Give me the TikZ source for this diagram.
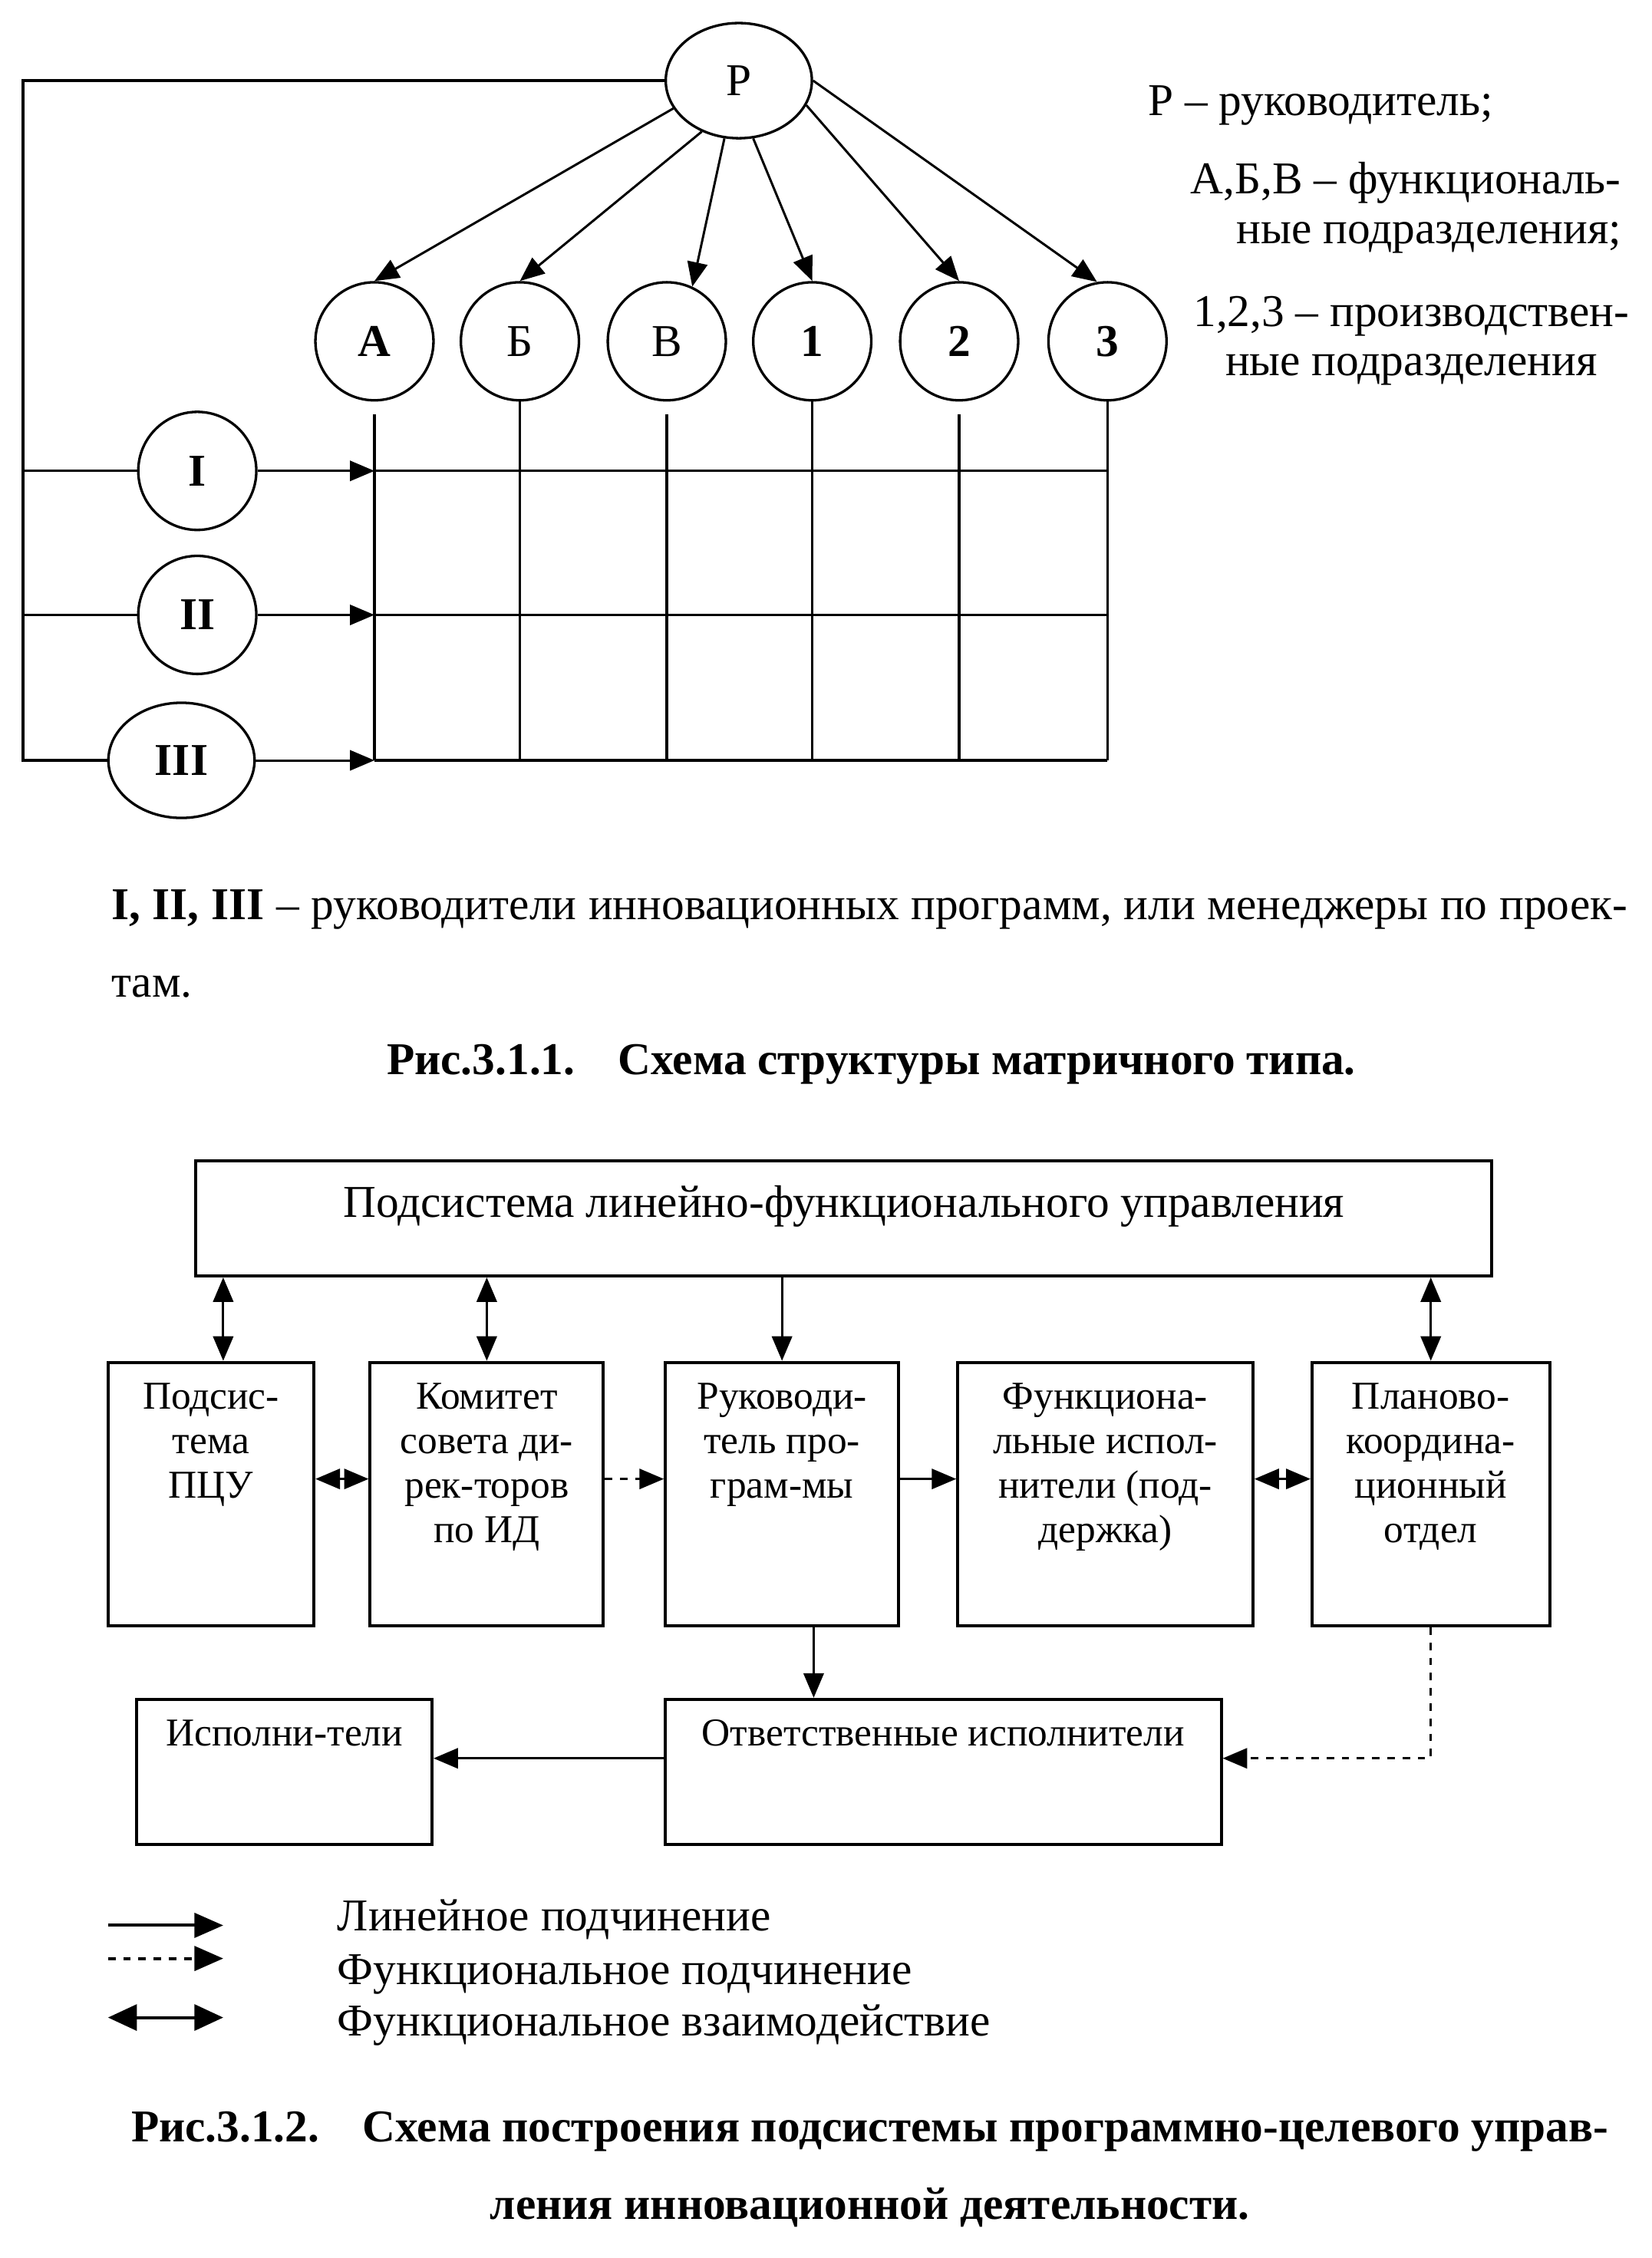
\documentclass[tikz,border=0pt]{standalone}
\usepackage{fontspec}
\setmainfont{Liberation Serif}
\usetikzlibrary{shapes.geometric, arrows.meta, positioning, calc}

\begin{document}
\begin{tikzpicture}[x=0.02cm, y=-0.02cm,
        font=\fontsize{18}{19.6}\selectfont,
        >={Triangle[length=0.34cm, width=0.28cm]},
        kr/.style={draw, line width=1pt, circle, minimum size=1.64cm, inner sep=0pt},
        ov/.style={draw, line width=1pt, ellipse, minimum width=2.03cm, minimum height=1.6cm, inner sep=0pt},
        ln/.style={line width=1pt},
        ar/.style={line width=0.9pt, ->},
        fn/.style={ar, dashed},
        vz/.style={line width=0.9pt, <->},
        bx/.style={draw, line width=1.2pt, inner sep=0pt},
        tx/.style={align=center, inner sep=0pt, font=\fontsize{15.6}{17.6}\selectfont},
        lg/.style={anchor=base west, inner sep=0pt},
        lar/.style={line width=1.2pt, -{Triangle[length=0.4cm, width=0.34cm]}}
    ]
    \useasboundingbox (0,0) rectangle (1147,1568);

    \node[ov] (R) at (513,56) {Р};
    \node[kr] (fA) at (260,237) {\textbf{А}};
    \node[kr] (fB) at (361,237) {Б};
    \node[kr] (fV) at (463,237) {В};
    \node[kr] (pr1) at (564,237) {\textbf{1}};
    \node[kr] (pr2) at (666,237) {\textbf{2}};
    \node[kr] (pr3) at (769,237) {\textbf{3}};
    \node[kr] (m1) at (137,327) {\textbf{I}};
    \node[kr] (m2) at (137,427) {\textbf{II}};
    \node[ov] (m3) at (126,528) {\textbf{III}};
    \coordinate (lt) at (16,56);
    \coordinate (lb) at (16,528);

    \draw[ar] (R.203) -- (fA.north);
    \draw[ar] (R.234) -- (fB.north);
    \draw[ar] (R.256) -- (fV.65);
    \draw[ar] (R.284) -- (pr1.north);
    \draw[ar] (R.340) -- (pr2.north);
    \draw[ar] (R.east) -- (pr3.100);
    \draw[ln] (R) -- (lt) -- (lb) -- (m3);
    \draw[ln] (lt |- m1) -- (m1);
    \draw[ln] (lt |- m2) -- (m2);
    \draw[ar] (m1) -- (fA |- m1);
    \draw[ar] (m2) -- (fA |- m2);
    \draw[ar] (m3) -- (fA |- m3);
    \draw[ln] (fA |- m1) -- (pr3 |- m1);
    \draw[ln] (fA |- m2) -- (pr3 |- m2);
    \draw[ln] (fA |- m3) -- (pr3 |- m3);
    \draw[ln, shorten <=0.18cm] (fA) -- (fA |- m3);
    \draw[ln] (fB) -- (fB |- m3);
    \draw[ln, shorten <=0.18cm] (fV) -- (fV |- m3);
    \draw[ln] (pr1) -- (pr1 |- m3);
    \draw[ln, shorten <=0.18cm] (pr2) -- (pr2 |- m3);
    \draw[ln] (pr3) -- (pr3 |- m3);

    \node[lg] (lR) at (797,80) {Р – руководитель;};
    \node[anchor=base east, align=right, inner sep=0pt] (lF) at (1126,169) {А,Б,В – функциональ-\\ные подразделения;};
    \node[anchor=base, align=center, inner sep=0pt] (lP) at (980,261) {1,2,3 – производствен-\\ные подразделения};

    \node[anchor=base west, align=left, inner sep=0pt, font=\fontsize{18}{30.7}\selectfont] (txt) at (77,692.5)
        {\makebox[21.06cm][s]{\textbf{I, II, III} – руководители инновационных программ, или менеджеры по проек-}\\там.};
    \node[anchor=base, inner sep=0pt] (cap1) at (605,746) {\textbf{Рис.3.1.1.\hspace{0.6cm}Схема структуры матричного типа.}};

    \node[bx, minimum width=18cm, minimum height=1.6cm] (lfu) at (586,846) {};
    \node[bx, minimum width=2.86cm, minimum height=3.66cm] (pcu) at (146.5,1037.5) {};
    \node[bx, minimum width=3.24cm, minimum height=3.66cm] (kom) at (338,1037.5) {};
    \node[bx, minimum width=3.24cm, minimum height=3.66cm] (rp) at (543,1037.5) {};
    \node[bx, minimum width=4.1cm, minimum height=3.66cm] (fi) at (767.5,1037.5) {};
    \node[bx, minimum width=3.3cm, minimum height=3.66cm] (pko) at (993.5,1037.5) {};
    \node[bx, minimum width=4.1cm, minimum height=2.02cm] (isp) at (197.5,1230.5) {};
    \node[bx, minimum width=7.72cm, minimum height=2.02cm] (otv) at (655,1230.5) {};

    \node[tx, font=\fontsize{18}{19.6}\selectfont, below=0.36cm of lfu.north] (tlfu) {Подсистема линейно-функционального управления};
    \node[tx, below=0.3cm of pcu.north] (tpcu) {Подсис-\\тема\\ПЦУ};
    \node[tx, below=0.3cm of kom.north] (tkom) {Комитет\\совета ди-\\рек-торов\\по ИД};
    \node[tx, below=0.3cm of rp.north] (trp) {Руководи-\\тель про-\\грам-мы};
    \node[tx, below=0.3cm of fi.north] (tfi) {Функциона-\\льные испол-\\нители (под-\\держка)};
    \node[tx, below=0.3cm of pko.north] (tpko) {Планово-\\координа-\\ционный\\отдел};
    \node[tx, below=0.3cm of isp.north] (tisp) {Исполни-тели};
    \node[tx, below=0.3cm of otv.north] (totv) {Ответственные исполнители};

    \draw[vz] ([xshift=0.17cm]pcu.north) -- ([xshift=0.17cm]pcu.north |- lfu.south);
    \draw[vz] (kom) -- (kom |- lfu.south);
    \draw[ar] (rp |- lfu.south) -- (rp);
    \draw[vz] (pko) -- (pko |- lfu.south);
    \draw[vz] ([yshift=0.21cm]pcu.east) -- ([yshift=0.21cm]pcu.east -| kom.west);
    \draw[fn] ([yshift=0.21cm]kom.east) -- ([yshift=0.21cm]kom.east -| rp.west);
    \draw[ar] ([yshift=0.21cm]rp.east) -- ([yshift=0.21cm]rp.east -| fi.west);
    \draw[vz] ([yshift=0.21cm]fi.east) -- ([yshift=0.21cm]fi.east -| pko.west);
    \draw[ar] ([xshift=0.44cm]rp.south) -- ([xshift=0.44cm]rp.south |- otv.north);
    \draw[ar] ([yshift=0.19cm]otv.west) -- ([yshift=0.19cm]otv.west -| isp.east);
    \draw[fn] (pko.south) |- ([yshift=0.19cm]otv.east);

    \coordinate (s1) at (75,1337);
    \coordinate (e1) at (155,1337);
    \coordinate (s2) at (75,1360);
    \coordinate (e2) at (155,1360);
    \coordinate (s3) at (75,1401);
    \coordinate (e3) at (155,1401);
    \draw[lar] (s1) -- (e1);
    \draw[lar, dashed] (s2) -- (e2);
    \draw[line width=1.2pt, {Triangle[length=0.4cm, width=0.36cm]}-{Triangle[length=0.4cm, width=0.36cm]}] (s3) -- (e3);
    \node[lg] (l1) at (234,1341) {Линейное подчинение};
    \node[lg] (l2) at (234,1378) {Функциональное подчинение};
    \node[lg] (l3) at (234,1414) {Функциональное взаимодействие};

    \node[anchor=base, align=center, inner sep=0pt, font=\fontsize{18}{30.7}\selectfont\bfseries] (cap2) at (604,1541)
        {Рис.3.1.2.\hspace{0.6cm}Схема построения подсистемы программно-целевого управ-\\ления инновационной деятельности.};
\end{tikzpicture}
\end{document}
